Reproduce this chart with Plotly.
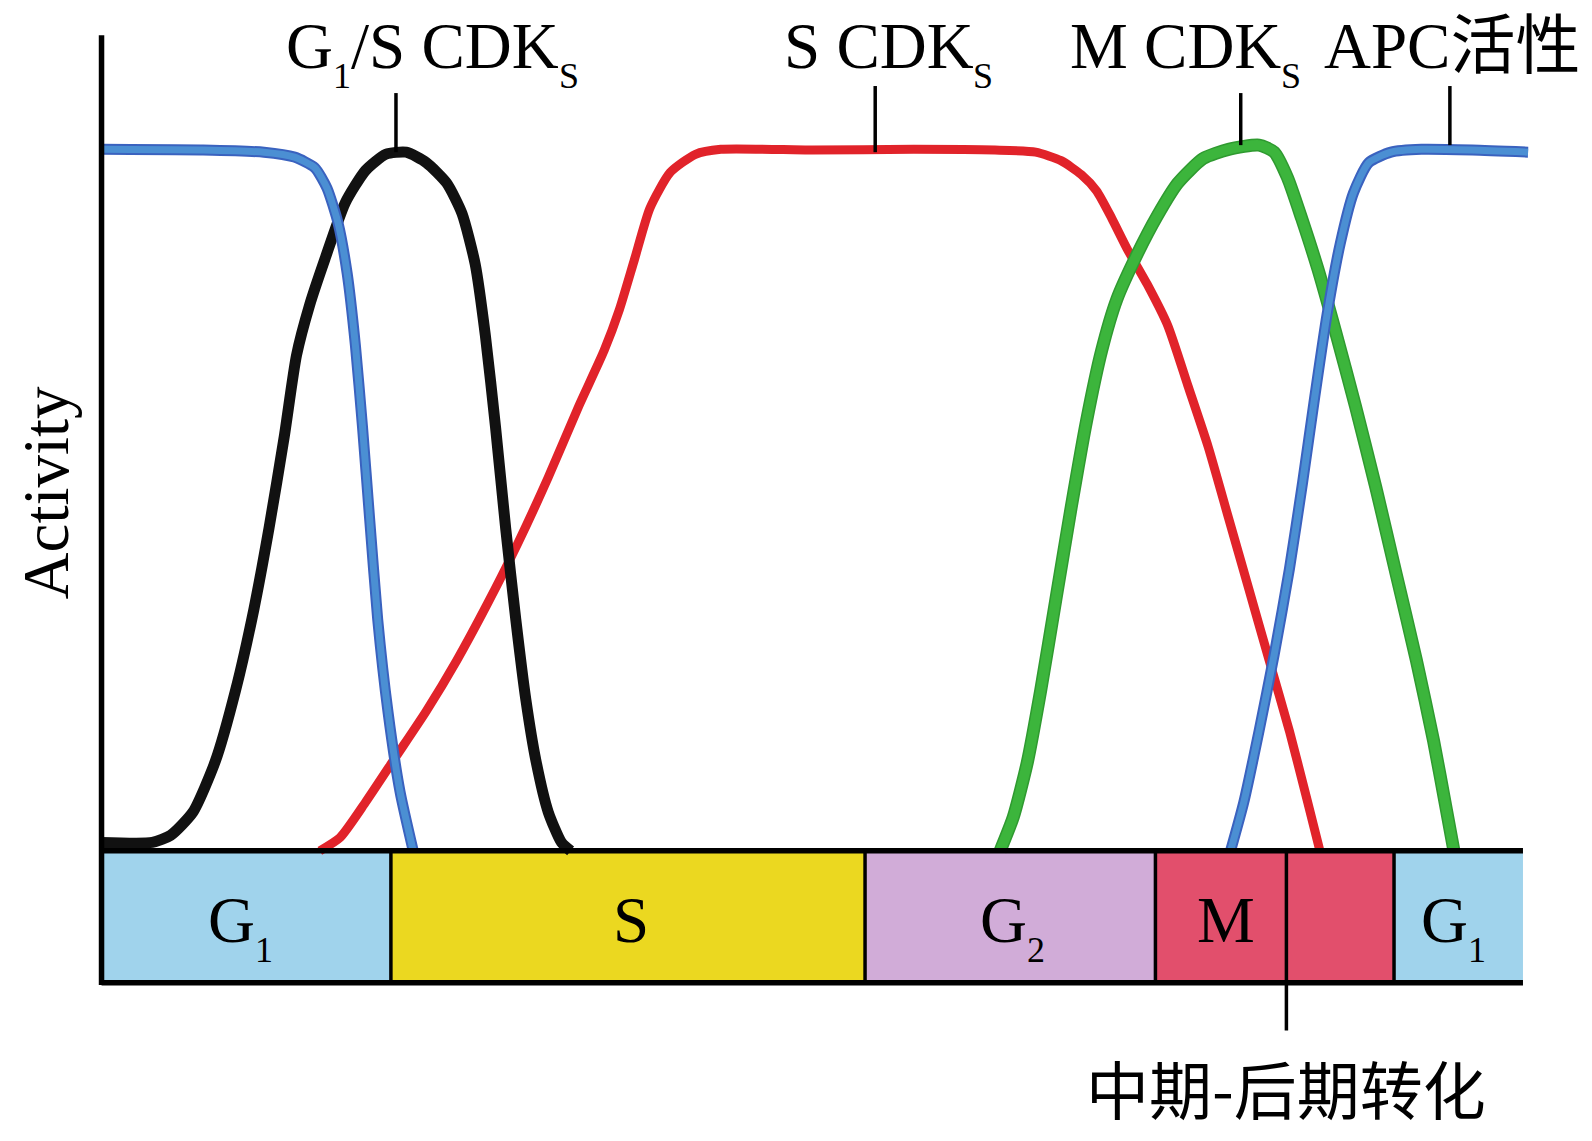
import re
import plotly.graph_objects as go

# ---------------- data ----------------
# x: position in the cell cycle (arbitrary units), y: relative activity (0..1)
apc1_x = [0, 100, 160, 190, 210, 222, 233, 242, 250, 257, 264, 272, 282, 294, 307]
apc1_y = [0.997, 0.996, 0.993, 0.986, 0.971, 0.942, 0.892, 0.820, 0.719, 0.603, 0.473, 0.329, 0.199, 0.084, 0.0]

g1s_x = [0, 50, 68, 90, 112, 132, 150, 165, 180, 192, 205, 220, 240, 260, 280, 300, 320, 340,
         355, 368, 378, 388, 398, 408, 418, 428, 440, 453, 462]
g1s_y = [0.012, 0.012, 0.022, 0.055, 0.127, 0.228, 0.343, 0.459, 0.589, 0.704, 0.776, 0.841, 0.921,
         0.967, 0.990, 0.993, 0.978, 0.949, 0.906, 0.834, 0.733, 0.603, 0.459, 0.329, 0.214, 0.127,
         0.055, 0.012, 0.0]

s_x = [215, 235, 260, 290, 320, 350, 380, 410, 440, 470, 495, 510, 525, 540, 560, 585, 610, 700,
       800, 880, 920, 945, 965, 980, 995, 1010, 1030, 1050, 1070, 1090, 1110, 1130, 1150, 1170, 1188, 1200]
s_y = [0.0, 0.019, 0.069, 0.134, 0.199, 0.271, 0.351, 0.437, 0.531, 0.632, 0.711, 0.769, 0.841, 0.913,
       0.964, 0.990, 0.997, 0.996, 0.997, 0.996, 0.993, 0.981, 0.961, 0.938, 0.899, 0.856, 0.805, 0.747,
       0.661, 0.574, 0.473, 0.372, 0.271, 0.170, 0.069, 0.0]

m_x = [885, 898, 912, 925, 940, 955, 970, 985, 1000, 1020, 1040, 1060, 1085, 1110, 1140, 1155, 1168,
       1182, 1198, 1215, 1235, 1255, 1275, 1295, 1312, 1325, 1332]
m_y = [0.0, 0.048, 0.127, 0.228, 0.358, 0.488, 0.610, 0.711, 0.784, 0.848, 0.903, 0.949, 0.984, 0.997,
       1.003, 0.993, 0.957, 0.899, 0.827, 0.740, 0.632, 0.517, 0.394, 0.271, 0.156, 0.055, 0.0]

apc2_x = [1112, 1125, 1140, 1155, 1170, 1183, 1195, 1207, 1220, 1233, 1248, 1270, 1300, 1350, 1405]
apc2_y = [0.0, 0.069, 0.170, 0.279, 0.401, 0.524, 0.646, 0.762, 0.863, 0.935, 0.978, 0.993, 0.997, 0.996, 0.993]

# phase strip
phase_start = [0, 285, 752, 1038, 1273]
phase_end = [285, 752, 1038, 1273, 1400]
phase_label = ["G{1}", "S", "G{2}", "M", "G{1}"]
phase_label_x = [135, 520, 895, 1105, 1330]
phase_color = ["#a0d3ec", "#ebd820", "#d1acd8", "#e24f6c", "#a0d3ec"]
transition_x = 1167
transition_label = "中期-后期转化"

# curve labels ({...} = subscript)
curve_label = ["G{1}/S CDK{S}", "S CDK{S}", "M CDK{S}", "APC活性"]
curve_label_x = [180, 670, 952, 1202]
pointer_x = [290, 762, 1122, 1328]
pointer_y0 = [0.993, 0.993, 1.003, 1.003]
pointer_y1 = [1.077, 1.087, 1.077, 1.087]

# ---------------- figure ----------------
STRIP_BOTTOM = -0.1876
SERIF = "Liberation Serif, Times New Roman, Noto Sans CJK SC, serif"
FS = 65          # main text size (px)
SUB_FS = 36      # subscript size (px)
SUB_DROP = 30    # extra vertical offset of subscript annotation (px)
PX_PER_UNIT = 1576 / (1460.1 + 92.12)

# Times / Liberation Serif advance widths (per 1000 em)
ADV = {"G": 722, "S": 556, "M": 889, "1": 500, "2": 500, "/": 278, " ": 250,
       "C": 667, "D": 722, "K": 722, "A": 722, "P": 556}


def text_width_units(txt, size):
    w = sum(ADV.get(ch, 1000) for ch in txt) * size / 1000.0
    return w / PX_PER_UNIT


def split_label(label):
    return [(m.group(1), True) if m.group(1) is not None else (m.group(2), False)
            for m in re.finditer(r"\{([^}]*)\}|([^{]+)", label)]


def label_annotations(label, x, y, anchor):
    segs = split_label(label)
    widths = [text_width_units(t, SUB_FS if sub else FS) for t, sub in segs]
    cx = x - sum(widths) / 2 if anchor == "center" else x
    out = []
    for (t, sub), w in zip(segs, widths):
        out.append(dict(text=t, x=cx, y=y, xref="x", yref="y", showarrow=False,
                        xanchor="left", yanchor="middle",
                        yshift=-SUB_DROP if sub else 0,
                        font=dict(family=SERIF, size=SUB_FS if sub else FS, color="black")))
        cx += w
    return out


fig = go.Figure()

shapes = []
for x0, x1, col in zip(phase_start, phase_end, phase_color):
    shapes.append(dict(type="rect", xref="x", yref="y", x0=x0, x1=x1, y0=STRIP_BOTTOM, y1=0,
                       fillcolor=col, line=dict(width=0), layer="below"))
for xb in phase_start[1:]:
    shapes.append(dict(type="line", xref="x", yref="y", x0=xb, x1=xb, y0=STRIP_BOTTOM, y1=0,
                       line=dict(color="black", width=3.5)))
shapes.append(dict(type="line", xref="x", yref="y", x0=transition_x, x1=transition_x,
                   y0=-0.2554, y1=0, line=dict(color="black", width=3.5)))
for yy in [0, STRIP_BOTTOM]:
    shapes.append(dict(type="line", xref="x", yref="y", x0=0, x1=phase_end[-1], y0=yy, y1=yy,
                       line=dict(color="black", width=5.5)))
shapes.append(dict(type="line", xref="x", yref="y", x0=0, x1=0, y0=STRIP_BOTTOM - 0.003, y1=1.159,
                   line=dict(color="black", width=5.5)))
for px, py0, py1 in zip(pointer_x, pointer_y0, pointer_y1):
    shapes.append(dict(type="line", xref="x", yref="y", x0=px, x1=px, y0=py0, y1=py1,
                       line=dict(color="black", width=3.5)))


def add_curve(x, y, color, width):
    fig.add_trace(go.Scatter(x=x, y=y, mode="lines",
                             line=dict(color=color, width=width, shape="spline", smoothing=0.6),
                             hoverinfo="skip", showlegend=False))


add_curve(s_x, s_y, "#e1232a", 9)
add_curve(m_x, m_y, "#2f9a30", 13)
add_curve(m_x, m_y, "#3cb53c", 10)
add_curve(g1s_x, g1s_y, "#111111", 11)
for bx, by in [(apc1_x, apc1_y), (apc2_x, apc2_y)]:
    add_curve(bx, by, "#3a62bf", 11)
    add_curve(bx, by, "#4b8fd3", 7)

annotations = []
for t, x in zip(phase_label, phase_label_x):
    annotations += label_annotations(t, x, -0.098, "center")
for t, x in zip(curve_label, curve_label_x):
    annotations += label_annotations(t, x, 1.144, "left")
annotations.append(dict(text="Activity", x=-55, y=0.509, xref="x", yref="y", showarrow=False,
                        textangle=-90, xanchor="center", yanchor="middle",
                        font=dict(family=SERIF, size=FS, color="black")))
annotations.append(dict(text=transition_label, x=transition_x, y=-0.3345, xref="x", yref="y",
                        showarrow=False, xanchor="center", yanchor="middle",
                        font=dict(family="Noto Sans CJK SC", size=63, color="black")))

# the page body adds an 8px margin: size the figure to the remaining window area
fig.update_layout(
    width=1576, height=1125,
    margin=dict(l=0, r=0, t=0, b=0),
    paper_bgcolor="white", plot_bgcolor="white",
    xaxis=dict(range=[-92.12, 1460.1], visible=False, fixedrange=True),
    yaxis=dict(range=[-0.4010, 1.1979], visible=False, fixedrange=True),
    shapes=shapes, annotations=annotations, showlegend=False,
)

fig.write_html("out.html")
